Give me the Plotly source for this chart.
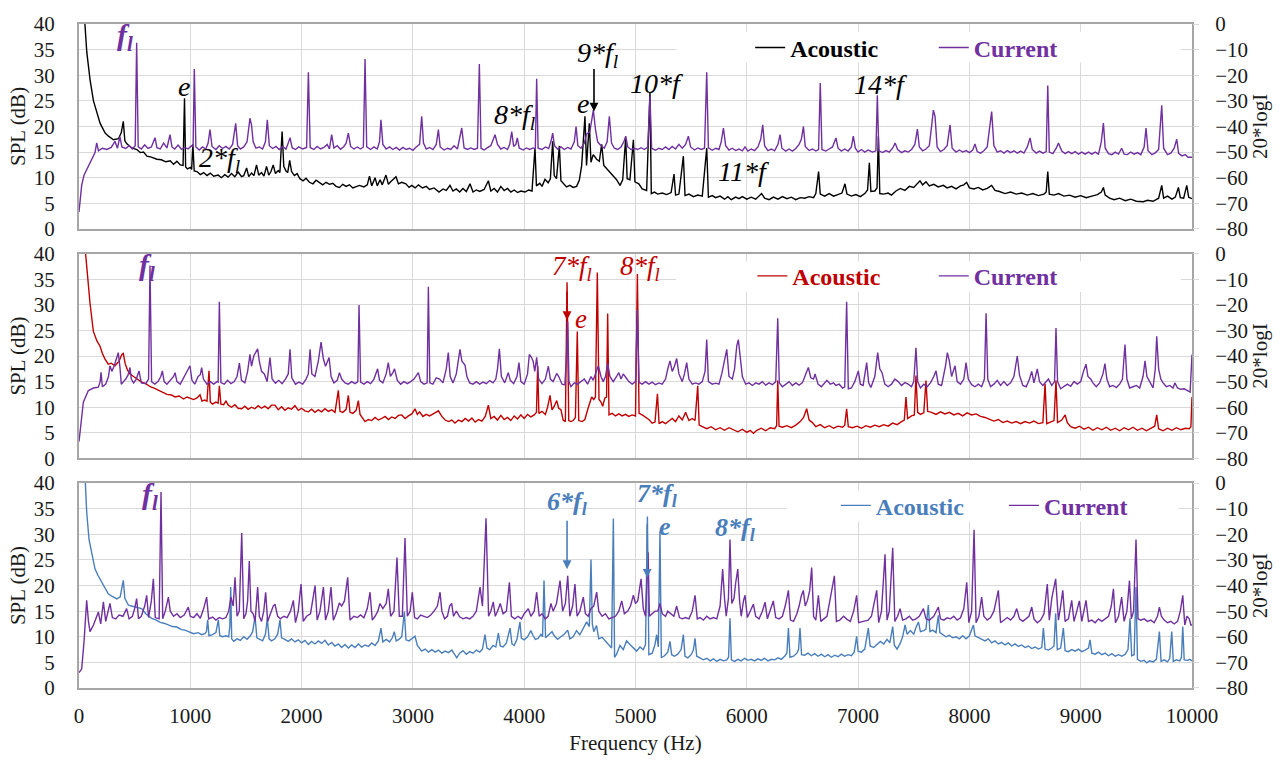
import plotly.graph_objects as go

# ---------------------------------------------------------------------------
# Spectra: (frequency Hz, level).  Acoustic in SPL (dB), current in 20*logI.
# ---------------------------------------------------------------------------
acoustic_top = [(0,62),(25,50),(50,41),(70,34.5),(100,29),(130,25),(160,22.6),(190,20.6),(235,18.7),(265,18.1),(310,17.4),(355,17.6),(380,18.8),(398,21),(412,17.2),(430,16.6),(475,15.8),(520,15.5),(550,14.9),(580,15),(610,14.2),(650,14),(700,13.6),(740,13.5),(780,13.1),(820,13.3),(850,12.6),(880,13.2),(910,12.5),(935,12.4),(948,25.5),(958,12.1),(975,11.7),(1000,12),(1012,11.6),(1023,16.5),(1035,11.3),(1060,11.2),(1090,10.6),(1120,11),(1150,10.4),(1180,10.9),(1210,10.3),(1250,10.5),(1280,10),(1310,10.6),(1340,10.1),(1370,10.8),(1400,10.2),(1430,11.1),(1460,10.2),(1480,10.4),(1506,11.9),(1525,10.2),(1550,10.9),(1572,10.4),(1595,12.5),(1615,10.5),(1640,11),(1662,10.3),(1685,12.2),(1705,10.5),(1725,11.2),(1745,12.5),(1765,10.8),(1790,11.4),(1805,11),(1825,19),(1840,12.2),(1860,11.3),(1875,11),(1893,13.4),(1910,11.2),(1935,10.4),(1960,10.8),(1985,9.8),(2013,9.4),(2040,9.9),(2070,9.1),(2102,8.8),(2130,9.5),(2160,9),(2190,8.6),(2220,9.1),(2250,8.7),(2280,8.9),(2310,8.3),(2340,8.1),(2370,8.7),(2400,8.3),(2430,8.6),(2460,8),(2490,8.2),(2520,8.5),(2560,8.2),(2590,8.6),(2610,10.3),(2630,8.4),(2660,10),(2680,8.4),(2705,9.6),(2725,8.6),(2758,10.5),(2780,8.7),(2800,9.2),(2825,9.8),(2848,10.2),(2870,8.8),(2900,9.1),(2937,8.8),(2965,8.1),(2990,8.5),(3020,8),(3050,8.6),(3086,8),(3120,8.3),(3150,7.7),(3190,8),(3235,7.2),(3270,7.8),(3300,7.5),(3333,8.5),(3360,7.4),(3390,7.8),(3420,7.2),(3450,7.9),(3480,7.3),(3513,8.8),(3540,7.2),(3570,7.6),(3600,7.3),(3640,7.7),(3678,9.4),(3700,7.4),(3730,7.9),(3760,7.2),(3790,8.3),(3820,7.5),(3850,7.9),(3880,7.2),(3910,7.6),(3940,7.1),(3970,7.4),(4007,7.2),(4040,7.6),(4070,7.4),(4097,15.8),(4110,8.4),(4140,8.9),(4160,8.3),(4187,9.7),(4215,9),(4235,9.8),(4256,17.1),(4270,10.4),(4290,9.8),(4316,16.2),(4330,9.4),(4350,8.9),(4380,8.2),(4410,8.5),(4440,8.1),(4471,8.3),(4495,9.5),(4516,12.3),(4546,22),(4560,12.4),(4585,20.6),(4600,13),(4620,14.5),(4651,13.6),(4675,13.2),(4696,16.5),(4715,12.4),(4740,11.8),(4770,11),(4800,10.3),(4830,9.6),(4861,8.5),(4885,9.6),(4912,17.8),(4925,9.8),(4950,9.6),(4981,17.4),(4995,9.2),(5030,8.8),(5060,7.8),(5100,7.5),(5130,26.7),(5142,6.9),(5170,7.2),(5200,6.8),(5240,7),(5280,6.7),(5320,7.1),(5346,10.7),(5360,6.6),(5390,6.8),(5430,14.2),(5445,6.5),(5480,6.8),(5520,6.3),(5560,6.6),(5600,6.4),(5640,15.8),(5655,6.2),(5690,6.5),(5720,6.1),(5760,6.4),(5800,5.8),(5830,6.3),(5860,5.7),(5900,6.2),(5930,5.9),(5960,6.3),(6000,5.8),(6040,6.2),(6080,5.8),(6133,6.9),(6160,6),(6200,5.7),(6240,6.2),(6280,5.8),(6320,6.3),(6360,5.9),(6400,6.2),(6440,5.7),(6480,6.1),(6520,6),(6560,6.3),(6600,6.1),(6620,6.9),(6645,11.2),(6660,6.8),(6700,6.4),(6740,6.9),(6780,6.4),(6820,6.7),(6855,7),(6882,8.8),(6900,6.8),(6940,6.4),(6980,6.7),(7020,6.3),(7060,6.9),(7085,7.6),(7101,12.9),(7115,7.3),(7150,7.4),(7170,8),(7182,18.1),(7195,6.9),(7230,6.8),(7270,7),(7300,6.6),(7340,7.4),(7380,7.9),(7420,7.5),(7460,8.3),(7500,8.1),(7530,8.8),(7556,9.4),(7580,8.6),(7610,9.2),(7640,8.4),(7680,8.7),(7720,8.2),(7766,8.5),(7800,8),(7840,8.3),(7880,7.8),(7920,8.4),(7950,8.6),(7975,9.1),(8000,8),(8040,7.8),(8080,8.1),(8120,7.6),(8160,7.9),(8200,8.5),(8230,7.5),(8270,7.3),(8320,6.9),(8370,7.2),(8420,6.8),(8470,7),(8520,6.6),(8570,6.9),(8620,6.5),(8670,6.8),(8690,7.2),(8704,11.2),(8718,6.8),(8760,6.6),(8800,6.9),(8850,6.4),(8900,6.6),(8950,6.2),(9000,6.5),(9050,6.1),(9100,6.4),(9150,6.7),(9185,7.2),(9204,8.1),(9220,6.6),(9260,6),(9300,5.7),(9350,6),(9400,5.5),(9450,5.8),(9500,5.4),(9563,5.3),(9600,5.6),(9650,5.4),(9700,6),(9728,8.5),(9745,6),(9780,6.4),(9820,5.8),(9850,6.2),(9878,8.1),(9895,6.1),(9925,6),(9953,8.5),(9970,6.2),(10000,5.9)]

current_top = [(0,-73.4),(24,-63),(45,-59),(69,-57),(100,-54),(144,-50.2),(159,-46.4),(175,-49.5),(210,-48.5),(250,-49),(290,-48.2),(323,-45.8),(345,-48.5),(368,-44),(385,-48),(420,-48.6),(450,-47.5),(480,-48.8),(505,-47.5),(518,-7.3),(532,-48),(560,-48.8),(590,-47.2),(620,-48.6),(650,-48),(683,-44.4),(700,-48.3),(730,-48.8),(760,-46.5),(790,-48.4),(818,-43.2),(835,-48),(860,-48.8),(890,-47.3),(920,-48.9),(950,-48.2),(980,-48.8),(1010,-47.5),(1025,-48),(1036,-17.6),(1050,-48),(1080,-49.2),(1110,-48),(1140,-48.8),(1160,-46.5),(1177,-41.2),(1195,-47.8),(1230,-49),(1260,-47.5),(1290,-48.6),(1320,-47.8),(1350,-48.8),(1380,-47),(1408,-38.8),(1425,-47.5),(1450,-48.8),(1480,-48),(1510,-46),(1536,-36.8),(1550,-39.5),(1565,-46),(1590,-48.5),(1620,-48),(1650,-48.8),(1675,-46),(1692,-37.4),(1710,-47.5),(1740,-48.6),(1770,-47.8),(1800,-49),(1830,-47.8),(1860,-48.8),(1880,-46.5),(1896,-44.4),(1915,-48.3),(1945,-49),(1975,-48),(2010,-48.8),(2045,-48.2),(2061,-18.8),(2077,-48.2),(2110,-49),(2140,-47.8),(2170,-48.8),(2200,-48.2),(2230,-47),(2250,-48.8),(2270,-43.2),(2290,-48.4),(2320,-47.5),(2350,-48.9),(2380,-47.8),(2400,-46.5),(2420,-42.6),(2440,-47.8),(2470,-48.8),(2500,-48),(2530,-48.8),(2555,-48),(2570,-13.7),(2585,-48),(2620,-49),(2650,-48),(2680,-48.8),(2700,-46),(2713,-37.4),(2730,-47),(2760,-48.8),(2790,-48),(2820,-49),(2850,-48.2),(2880,-49.2),(2910,-48.2),(2940,-49),(2970,-48.5),(3000,-49.3),(3030,-48),(3060,-47),(3079,-36),(3095,-46.5),(3120,-48.8),(3150,-48.2),(3180,-49),(3210,-47),(3229,-41.2),(3245,-48),(3280,-49.2),(3310,-48.5),(3340,-49),(3370,-47.5),(3400,-48.8),(3439,-40.6),(3460,-48.4),(3490,-49),(3520,-48.4),(3550,-49),(3580,-48.5),(3597,-15.6),(3612,-48.5),(3640,-49.2),(3670,-48.3),(3700,-47.5),(3738,-43.2),(3760,-47),(3790,-48.8),(3820,-48.2),(3850,-49),(3870,-47),(3888,-42),(3905,-47.8),(3925,-47),(3938,-44.5),(3955,-48.4),(3990,-49.2),(4020,-48.4),(4050,-49),(4080,-48.4),(4100,-48.8),(4112,-21.4),(4125,-48.5),(4160,-49),(4190,-48),(4220,-48.6),(4240,-46),(4256,-42.6),(4272,-47.5),(4300,-48.8),(4330,-48),(4360,-49),(4390,-48.2),(4420,-48.8),(4450,-46),(4466,-40),(4482,-47.5),(4510,-48.5),(4540,-46.5),(4560,-43),(4590,-42),(4621,-33.6),(4640,-41),(4660,-46),(4690,-47.5),(4720,-48.5),(4745,-46),(4765,-36),(4785,-46.5),(4810,-48.5),(4840,-49),(4870,-48),(4895,-46),(4912,-43.8),(4930,-48),(4960,-49),(4990,-48.5),(5020,-49),(5050,-48.3),(5080,-49),(5110,-48),(5130,-28),(5145,-48.5),(5180,-49.3),(5210,-48.5),(5240,-49),(5270,-48),(5300,-49),(5330,-47.8),(5360,-48.8),(5390,-47),(5420,-48.5),(5450,-47),(5475,-43.8),(5495,-48),(5530,-49.2),(5560,-48.4),(5590,-49),(5620,-48.5),(5640,-18.8),(5655,-48.4),(5690,-49.3),(5720,-48.5),(5750,-49),(5770,-46),(5790,-40.6),(5810,-47.5),(5840,-49.2),(5870,-48.5),(5900,-49.4),(5930,-48.8),(5960,-49.5),(5984,-48),(6010,-49.6),(6040,-48.8),(6070,-49.4),(6100,-48),(6125,-45),(6143,-39.4),(6160,-47.5),(6190,-49.4),(6220,-48.8),(6250,-49.5),(6280,-47),(6299,-43.2),(6315,-48.5),(6350,-49.6),(6380,-48.8),(6410,-49.6),(6440,-48.6),(6470,-47),(6490,-45),(6509,-40),(6525,-47.8),(6560,-49.4),(6590,-48.8),(6620,-49.6),(6645,-49),(6660,-23),(6675,-49),(6710,-49.6),(6740,-48.8),(6770,-48),(6801,-44.5),(6820,-48.5),(6850,-49.6),(6880,-48.8),(6910,-49.6),(6940,-48),(6957,-43.8),(6975,-48.5),(7000,-50),(7030,-49),(7060,-50),(7090,-49.2),(7130,-50),(7160,-49.5),(7173,-27.8),(7186,-49.5),(7220,-50.2),(7250,-49.4),(7280,-50),(7310,-48.5),(7333,-46.5),(7355,-49),(7390,-50.2),(7420,-49.5),(7450,-50),(7480,-49),(7510,-47),(7533,-41),(7550,-48),(7580,-49.5),(7610,-48.8),(7640,-47.5),(7660,-40),(7676,-33.6),(7691,-36),(7710,-48),(7740,-49.8),(7770,-49),(7800,-47.5),(7826,-39.4),(7845,-48.5),(7880,-50),(7910,-49.2),(7940,-50),(7970,-49.4),(8000,-50.2),(8030,-49.2),(8050,-46.8),(8070,-49.8),(8100,-50.4),(8130,-49.5),(8160,-48),(8200,-34.2),(8220,-47.5),(8250,-50),(8280,-49.5),(8310,-50.4),(8340,-49.4),(8370,-50.2),(8400,-49.5),(8430,-50.4),(8460,-49.6),(8490,-50.4),(8520,-48),(8545,-44.5),(8565,-49),(8600,-50.4),(8630,-49.6),(8660,-50.4),(8690,-49.8),(8704,-24),(8718,-50),(8750,-50.6),(8780,-48.5),(8800,-46.5),(8830,-49.6),(8860,-50.6),(8890,-49.8),(8920,-50.6),(8950,-49.8),(8980,-50.8),(9010,-50),(9040,-50.8),(9070,-50),(9100,-50.8),(9130,-50),(9160,-50.8),(9185,-46),(9204,-38.7),(9220,-48.5),(9250,-50.6),(9280,-51),(9310,-50),(9340,-50.8),(9368,-48.5),(9390,-50.8),(9420,-51),(9450,-50),(9480,-50.8),(9510,-50.2),(9540,-51),(9570,-48),(9587,-40.6),(9605,-49.5),(9640,-51),(9670,-50.3),(9700,-49),(9728,-31.7),(9745,-48.5),(9780,-51),(9810,-50.4),(9840,-48.5),(9863,-45),(9880,-50.5),(9910,-51.5),(9940,-51),(9965,-52),(10000,-52)]

acoustic_mid = [(0,62),(25,50),(55,41),(78,35.4),(99,30.3),(129,24.8),(160,23),(189,21.9),(210,20.5),(234,19.4),(263,18.4),(290,18.6),(323,18.1),(360,19),(385,20.3),(398,20.5),(415,18.5),(435,17.3),(458,16.5),(490,16),(530,15.4),(563,14.9),(600,14.6),(640,14),(680,13.7),(713,13.3),(750,13),(790,12.5),(830,12.4),(863,12),(900,12.2),(940,11.6),(970,12),(997,11.7),(1030,11.5),(1060,11.8),(1087,12.4),(1105,11.2),(1130,11.4),(1150,11.2),(1168,17.1),(1180,11),(1200,10.6),(1230,11),(1250,10.8),(1261,14.2),(1275,10.6),(1300,10.5),(1320,11.2),(1342,10.4),(1370,10),(1400,10.5),(1430,9.8),(1462,9.7),(1490,10.2),(1520,9.6),(1550,10),(1580,9.7),(1610,10.3),(1640,9.8),(1670,10.2),(1700,9.7),(1730,10.4),(1761,10.4),(1790,9.5),(1820,10.1),(1850,9.4),(1880,9.9),(1910,9.6),(1940,10.3),(1970,9.4),(2000,9.8),(2030,9.3),(2061,9.1),(2090,9.6),(2120,9),(2150,9.5),(2180,9.1),(2210,9.7),(2240,9.2),(2270,9.5),(2300,9),(2330,13.3),(2345,9.2),(2370,9),(2400,9.6),(2420,12.3),(2435,9),(2460,8.8),(2490,9.4),(2510,11.3),(2525,8.6),(2550,7.8),(2570,7.2),(2600,7.6),(2630,7.4),(2660,8),(2690,7.5),(2720,7.8),(2750,8.2),(2780,7.6),(2810,8.1),(2840,7.8),(2870,8.4),(2900,8.5),(2930,7.8),(2960,8.3),(2990,8.7),(3019,9.7),(3040,8.6),(3060,9.1),(3090,8.2),(3120,8.6),(3150,8.3),(3190,8.8),(3229,9.3),(3260,8.2),(3290,7.5),(3320,7.2),(3350,7.5),(3378,6.9),(3410,7.5),(3440,7.2),(3470,7.8),(3500,7.3),(3530,7.9),(3560,7.1),(3590,7.6),(3620,7.3),(3650,8.2),(3678,10.4),(3700,7.8),(3730,8.2),(3760,7.5),(3790,8.4),(3820,7.6),(3850,8),(3880,7.4),(3910,8.3),(3940,7.7),(3970,8.5),(4000,7.8),(4030,8.6),(4060,8.1),(4090,8.5),(4110,9),(4121,18.1),(4132,8.8),(4160,9.2),(4190,8.6),(4210,10),(4232,12.3),(4250,9.5),(4270,10.2),(4292,11.3),(4310,9.8),(4330,9.5),(4350,7.5),(4370,7.2),(4385,34.4),(4400,7.4),(4420,7.2),(4440,7.4),(4460,8),(4477,24.8),(4490,7.4),(4520,7.2),(4545,7.6),(4570,9.5),(4590,11),(4606,12),(4625,11.5),(4640,12),(4657,36.3),(4672,11.5),(4690,11),(4705,10.2),(4725,11.8),(4740,12),(4750,28.3),(4762,8.5),(4790,8.8),(4820,8.3),(4850,8.7),(4880,8.3),(4910,8.6),(4940,8.2),(4970,8.5),(5000,8.3),(5017,36),(5032,8.8),(5060,8.5),(5090,8.1),(5120,7.6),(5150,6.9),(5175,7.1),(5197,12.6),(5212,6.8),(5240,7.2),(5270,6.8),(5300,7.3),(5330,7.8),(5360,7.2),(5390,8.3),(5420,7.5),(5450,9),(5480,7.4),(5510,7.8),(5535,7.4),(5559,14.2),(5572,6.5),(5600,6.2),(5640,5.8),(5680,6.2),(5720,5.6),(5760,6),(5800,5.5),(5840,6),(5880,5.6),(5920,5.2),(5960,5.7),(6000,5.1),(6030,5.5),(6059,4.9),(6090,5.5),(6130,5.9),(6170,5.4),(6210,6),(6250,5.8),(6268,6.4),(6278,15.2),(6290,6.3),(6320,6.1),(6360,6.4),(6400,6),(6440,6.5),(6480,7.2),(6510,8),(6538,9.7),(6560,7.5),(6590,7),(6620,6.2),(6660,6.6),(6700,6),(6740,6.4),(6780,5.9),(6820,6.3),(6860,6.1),(6880,6.5),(6897,9.7),(6912,6.2),(6950,6),(6990,6.3),(7030,5.9),(7070,6.4),(7110,6.1),(7150,6.5),(7190,6.2),(7230,6.6),(7270,6.3),(7310,6.9),(7350,6.6),(7390,7.2),(7415,7.5),(7430,12),(7445,7.8),(7480,8.3),(7505,8.5),(7520,16.2),(7535,9),(7560,8.6),(7590,8.9),(7610,15.2),(7625,9.2),(7660,9),(7700,8.6),(7740,9.1),(7780,8.7),(7820,9),(7860,8.5),(7900,8.8),(7940,8.3),(7980,8.9),(8020,8.5),(8060,8.7),(8100,8.2),(8140,8),(8180,7.6),(8220,7.3),(8260,7.6),(8300,7),(8340,7.3),(8380,6.9),(8420,7.2),(8460,6.8),(8500,7.2),(8540,6.9),(8580,7.3),(8620,6.8),(8660,7),(8680,14.6),(8695,6.8),(8730,7.2),(8760,7.4),(8778,15.2),(8792,7),(8830,7.5),(8860,8.5),(8880,7),(8910,6.2),(8950,5.9),(8990,6.3),(9030,5.7),(9070,6.1),(9110,5.5),(9150,6),(9190,5.6),(9230,6.1),(9270,5.5),(9310,5.9),(9350,5.4),(9390,6),(9430,5.6),(9470,6.1),(9510,5.5),(9550,5.9),(9590,5.4),(9630,5.9),(9665,6.3),(9683,8.5),(9700,5.8),(9740,5.4),(9780,5.9),(9820,5.5),(9860,6),(9900,5.6),(9940,5.9),(9975,5.8),(9990,6.2),(10000,12)]

current_mid = [(0,-73.4),(39,-58),(84,-53.5),(130,-52.5),(174,-52.2),(190,-50),(198,-46.4),(210,-52),(240,-51),(265,-48),(278,-43.8),(295,-46),(315,-44),(330,-41.5),(353,-38.7),(368,-44.5),(380,-51),(400,-50),(420,-49),(440,-47.5),(458,-44.5),(470,-49),(490,-50.5),(515,-49),(539,-45.8),(560,-50.5),(600,-50.8),(625,-49),(638,-4.7),(652,-50),(680,-51),(710,-50),(735,-48),(749,-45.8),(765,-50),(790,-51),(820,-49.5),(850,-48),(863,-46.5),(880,-50),(910,-51),(940,-48.5),(970,-46),(997,-43.8),(1015,-49.5),(1040,-51),(1070,-48),(1090,-47.3),(1102,-44.5),(1118,-49),(1150,-51),(1180,-50),(1210,-51),(1240,-50),(1250,-50.2),(1261,-18.8),(1275,-50.4),(1305,-51),(1335,-49.5),(1365,-50.8),(1395,-50),(1420,-48),(1441,-42.8),(1460,-49.5),(1490,-50.5),(1515,-46),(1536,-39.4),(1550,-44),(1570,-40),(1605,-37.2),(1620,-42),(1640,-46),(1665,-47),(1690,-50),(1716,-40.6),(1735,-49),(1765,-50.6),(1795,-49.5),(1825,-50.8),(1855,-49),(1880,-47),(1896,-37.4),(1912,-48.5),(1945,-51),(1975,-50.2),(2010,-51),(2040,-49),(2060,-47),(2076,-37.4),(2092,-47),(2120,-48),(2150,-42),(2175,-34.6),(2195,-41),(2215,-44),(2247,-40.6),(2265,-48),(2290,-50.5),(2320,-49.5),(2340,-46.5),(2360,-49),(2390,-50.5),(2420,-51),(2450,-50),(2480,-50.8),(2505,-50),(2516,-20.1),(2530,-50.2),(2560,-51),(2590,-50),(2620,-50.8),(2650,-49),(2683,-45),(2700,-49.5),(2730,-50.5),(2760,-47),(2779,-42.6),(2798,-48),(2820,-46.5),(2835,-45),(2860,-49.5),(2890,-51),(2920,-50),(2950,-50.8),(2980,-50),(3010,-49),(3049,-46.5),(3070,-50),(3100,-51),(3128,-50.5),(3139,-13),(3152,-50.5),(3180,-51),(3210,-48.5),(3240,-49),(3270,-50.5),(3300,-45),(3318,-38.7),(3335,-48),(3360,-50.5),(3390,-47),(3423,-37.4),(3440,-42),(3468,-43.5),(3485,-48),(3510,-50.5),(3540,-51),(3570,-50),(3600,-51),(3630,-50.2),(3660,-50.8),(3690,-49.6),(3720,-50.5),(3745,-49),(3760,-45),(3777,-37.2),(3795,-48),(3825,-50.5),(3857,-46.5),(3875,-49.5),(3905,-50.8),(3935,-48),(3953,-42.6),(3970,-50),(4000,-51),(4030,-47),(4046,-39.4),(4065,-40.5),(4080,-42),(4095,-46),(4112,-40.5),(4130,-49),(4160,-50.8),(4190,-49),(4217,-44),(4235,-49),(4260,-50),(4292,-46.8),(4310,-48),(4340,-51),(4365,-51.3),(4380,-40),(4391,-26.5),(4402,-50),(4420,-52),(4450,-50.5),(4480,-51),(4510,-50),(4540,-49),(4570,-51),(4600,-48),(4620,-49.5),(4640,-47),(4666,-43.8),(4690,-48),(4710,-50),(4730,-48),(4750,-43),(4770,-48),(4800,-50),(4830,-48),(4850,-46.5),(4870,-49),(4890,-47),(4915,-48.5),(4940,-50),(4970,-51),(5000,-50),(5017,-22),(5032,-50.3),(5060,-51),(5090,-50),(5120,-51),(5150,-50.2),(5180,-51.2),(5210,-50.5),(5240,-51),(5270,-49),(5290,-45),(5310,-41.9),(5330,-46),(5350,-44),(5370,-41),(5390,-47),(5420,-50),(5440,-47),(5460,-42.6),(5480,-49),(5510,-51),(5540,-50.5),(5570,-51),(5600,-50),(5625,-46),(5640,-33.6),(5655,-50),(5690,-51),(5720,-50.6),(5750,-51),(5775,-47),(5800,-41),(5820,-37.4),(5840,-48),(5870,-49),(5890,-45),(5910,-36),(5924,-33.6),(5940,-40),(5960,-48),(5990,-51),(6020,-50.5),(6050,-51.5),(6080,-50.5),(6110,-51),(6140,-50),(6170,-51.4),(6200,-50.5),(6230,-51.2),(6260,-50),(6278,-25.3),(6292,-50.5),(6320,-52),(6350,-51),(6380,-50),(6410,-51.5),(6440,-50.5),(6470,-51.4),(6500,-50.4),(6530,-47),(6553,-44.5),(6575,-48.5),(6600,-49),(6613,-47),(6640,-51),(6670,-52),(6700,-50.5),(6720,-49.5),(6750,-51),(6780,-50.5),(6800,-51.5),(6830,-51),(6860,-52.5),(6880,-52),(6897,-18.8),(6912,-52.8),(6940,-52.5),(6970,-50),(7002,-45.8),(7020,-51),(7045,-51.5),(7077,-42.6),(7095,-50.5),(7115,-52.3),(7150,-48),(7176,-38.7),(7195,-45),(7215,-46.5),(7240,-51),(7270,-52),(7300,-51),(7330,-49),(7360,-50),(7390,-51.5),(7420,-50.4),(7450,-51),(7480,-52),(7500,-50),(7520,-36.8),(7535,-50),(7560,-52.5),(7590,-51),(7620,-52),(7650,-50.5),(7680,-48),(7700,-45.8),(7720,-51),(7750,-51.5),(7785,-44),(7802,-38.7),(7820,-42),(7840,-48),(7871,-43.8),(7890,-50),(7920,-51),(7950,-49),(7970,-42.6),(7990,-49),(8020,-51.2),(8050,-52),(8080,-51),(8110,-52),(8135,-49),(8150,-23.3),(8165,-49),(8190,-52),(8220,-51),(8250,-49.5),(8280,-51.5),(8310,-50),(8340,-51.5),(8370,-50.5),(8400,-48),(8430,-40),(8450,-47.5),(8480,-51.5),(8510,-52),(8540,-49),(8560,-46),(8580,-50.5),(8610,-45),(8630,-50),(8660,-51.5),(8690,-50),(8710,-49),(8740,-51.5),(8765,-50),(8778,-29.1),(8792,-50),(8820,-52.8),(8850,-52),(8880,-51),(8910,-51.8),(8940,-50),(8970,-51),(9000,-50),(9025,-46),(9048,-43.2),(9065,-48),(9090,-49),(9110,-50.5),(9140,-52),(9170,-50.5),(9200,-47),(9218,-43),(9235,-49),(9260,-52),(9290,-51.5),(9320,-52.3),(9350,-51),(9375,-49),(9398,-35.5),(9415,-49),(9440,-52.5),(9470,-52),(9500,-51.5),(9530,-52.5),(9560,-48),(9578,-41.9),(9595,-48),(9620,-50),(9650,-52.5),(9670,-45),(9683,-32.3),(9700,-45),(9720,-49),(9740,-50.5),(9770,-52),(9800,-51.5),(9830,-52.5),(9846,-50.5),(9870,-52.5),(9900,-53),(9930,-52.8),(9960,-53.5),(9983,-54.1),(10000,-39.4)]

acoustic_bot = [(0,62),(25,50),(55,41),(69,34.4),(90,29),(114,26.1),(144,23.2),(170,22),(189,21.3),(210,20.5),(234,19.7),(263,18.4),(290,18),(308,17.8),(340,17.4),(370,17.8),(385,19.5),(398,21),(412,17.5),(430,16.6),(443,16.2),(470,16),(500,15.8),(530,15.7),(563,15.5),(600,14.5),(630,14),(653,13.6),(690,13.3),(730,12.8),(770,12.6),(803,12.3),(840,12),(880,11.9),(920,11.4),(952,11.3),(990,11),(1030,10.6),(1070,10.8),(1102,10.4),(1130,10.6),(1145,11),(1156,13.3),(1168,10.2),(1200,10.4),(1230,10.8),(1252,13.3),(1265,10.2),(1290,10),(1320,10.2),(1345,10),(1355,12),(1363,19.7),(1372,9.6),(1390,9.1),(1420,9.6),(1450,9.3),(1480,10),(1510,9.5),(1540,10.2),(1560,11),(1582,13.9),(1598,9.8),(1620,9.5),(1650,9.2),(1675,10.5),(1692,13.6),(1708,9.6),(1730,9.2),(1760,9.6),(1785,10.5),(1806,13.3),(1820,9.8),(1850,9.5),(1880,9.1),(1910,9.6),(1940,9),(1970,9.4),(2000,8.8),(2030,9.3),(2061,8.5),(2090,9.1),(2120,8.6),(2150,9.2),(2180,8.7),(2210,9.3),(2240,8.4),(2270,8.9),(2300,8.2),(2330,8.6),(2360,7.9),(2390,8.5),(2420,7.8),(2450,8.4),(2480,7.9),(2510,8.6),(2540,8),(2570,8.4),(2600,8.1),(2630,8.8),(2660,8.3),(2690,9.2),(2713,11.7),(2730,9),(2760,9.5),(2790,9),(2815,9.8),(2833,11),(2850,9.2),(2875,9.5),(2900,10),(2923,14.9),(2938,9.4),(2965,9.2),(2990,9.6),(3019,10.1),(3040,8.3),(3060,7.6),(3079,7.2),(3110,7.6),(3140,7),(3170,7.5),(3200,7),(3230,7.4),(3260,6.8),(3290,7.2),(3319,6.9),(3350,7.4),(3394,5.9),(3420,6.8),(3450,7.3),(3480,6.6),(3510,7.1),(3540,6.8),(3570,7.4),(3600,7),(3625,7.6),(3648,10.4),(3665,7.8),(3690,7.5),(3720,8.3),(3745,8),(3768,10.7),(3785,8.2),(3810,8),(3840,8.8),(3873,11.7),(3890,8.6),(3910,8.3),(3935,9.5),(3962,12.9),(3975,9.7),(4000,9.4),(4030,10),(4060,11.2),(4080,10.2),(4100,9.5),(4125,9.7),(4150,10.5),(4165,10),(4178,21),(4192,9.8),(4220,10.3),(4250,11),(4270,10.2),(4300,9.5),(4330,10),(4360,10.5),(4391,11.3),(4410,9.6),(4440,10),(4470,11.2),(4500,10.4),(4530,11.6),(4561,12.9),(4585,12),(4600,25.1),(4612,12.5),(4625,11),(4650,12.2),(4670,9.6),(4700,9.9),(4730,9.1),(4760,8.5),(4785,7.8),(4801,33.1),(4812,6),(4830,6.6),(4860,8.3),(4890,7.5),(4920,9.2),(4950,8.5),(4980,7.8),(5010,7.2),(5040,8),(5070,7.5),(5090,8.5),(5107,33.5),(5120,6.5),(5150,6.8),(5175,8.5),(5190,10.4),(5205,8),(5220,30.6),(5232,5.9),(5260,6.3),(5290,7),(5310,9.1),(5325,6.5),(5350,6.2),(5380,6.6),(5410,7.5),(5430,10.4),(5445,6.2),(5470,5.9),(5500,6.5),(5520,7.4),(5535,9.7),(5550,6.2),(5580,5.9),(5610,5.5),(5640,5.8),(5670,5.3),(5700,5.7),(5730,5.2),(5760,5.6),(5790,5.3),(5820,5.5),(5836,6),(5849,13.6),(5862,5.5),(5890,5.2),(5920,5.6),(5950,5.3),(5980,5.8),(6010,5.4),(6040,5.6),(6070,5.3),(6100,5.7),(6130,5.4),(6160,5.8),(6190,5.3),(6220,5.6),(6250,5.5),(6280,5.9),(6310,5.6),(6340,6.2),(6360,6.8),(6374,11.7),(6388,6),(6420,6.2),(6450,6.8),(6465,7.5),(6478,11.7),(6492,6.5),(6520,6.4),(6550,6.8),(6580,6.3),(6610,6.7),(6640,6.2),(6670,6.6),(6700,6.1),(6730,6.5),(6760,6),(6790,6.4),(6820,6.1),(6850,6.6),(6880,6.2),(6910,6.5),(6940,6.3),(6965,7),(6987,10.1),(7000,7.2),(7030,7),(7060,7.6),(7092,11.7),(7108,8.2),(7140,7.9),(7170,8.6),(7200,9.1),(7230,8.6),(7260,9.5),(7285,8.8),(7311,12),(7325,8.4),(7350,7.6),(7380,8.8),(7400,10),(7422,12.3),(7440,10.5),(7470,11.2),(7500,10.5),(7520,11.8),(7542,12.9),(7560,11),(7590,11.2),(7610,11.5),(7631,16.2),(7645,11),(7670,11.3),(7700,10.8),(7721,14.2),(7735,10.8),(7760,10.5),(7790,10),(7820,10.3),(7850,9.8),(7880,10),(7910,9.6),(7940,10.2),(7970,9.6),(8000,10.2),(8036,12.3),(8050,10.2),(8080,9.9),(8110,9.5),(8140,9.2),(8170,9.6),(8200,8.8),(8230,9.2),(8260,8.6),(8290,8.9),(8320,8.4),(8350,8.8),(8380,8.2),(8410,8.6),(8440,8.1),(8470,8.4),(8500,7.9),(8530,8.2),(8560,7.7),(8590,8),(8620,7.6),(8650,7.9),(8665,11.7),(8680,7.6),(8710,7.4),(8740,7.8),(8760,8.2),(8775,14.6),(8790,7.5),(8820,7.8),(8844,11.7),(8860,7.3),(8890,7.1),(8920,7.5),(8950,7.2),(8980,7.6),(9010,7.1),(9040,7.4),(9070,7.8),(9084,9.4),(9100,6.8),(9130,6.6),(9160,7),(9190,6.5),(9220,6.8),(9250,6.3),(9280,6.7),(9310,6.2),(9340,6.5),(9370,6.2),(9400,6.6),(9425,7.5),(9443,13.6),(9458,6.3),(9480,6.5),(9497,19.7),(9510,5.6),(9540,5.2),(9570,5.4),(9593,4.9),(9620,5.3),(9650,5.1),(9680,5.6),(9707,11),(9722,5.2),(9750,5.5),(9780,5.1),(9800,5.8),(9818,11),(9832,5.2),(9860,5.5),(9890,5.3),(9905,6),(9917,12),(9930,5.5),(9960,5.4),(9980,5.6),(10000,5.3)]

current_bot = [(0,-74),(24,-72.6),(45,-62),(69,-45.8),(85,-54),(99,-58),(130,-55.4),(150,-53),(174,-50.3),(195,-55),(219,-46.4),(240,-54),(262,-50),(278,-47),(300,-52.5),(330,-53),(360,-51.5),(395,-52),(428,-49),(450,-53),(480,-52),(500,-49),(518,-45.1),(535,-53),(560,-52),(590,-48),(608,-43.8),(625,-52.5),(650,-46),(668,-37.4),(685,-52.5),(720,-53),(737,-3.5),(752,-53),(775,-50),(803,-44.5),(820,-50),(850,-52),(880,-51),(910,-52.5),(945,-51.5),(982,-48.4),(1000,-52),(1030,-52.5),(1060,-51),(1090,-52.8),(1120,-49),(1147,-44.5),(1165,-53),(1200,-52.3),(1230,-53.5),(1260,-52.5),(1290,-53),(1320,-52.5),(1345,-50),(1365,-44.5),(1385,-48),(1402,-36.8),(1420,-52),(1440,-50),(1462,-19.5),(1480,-53),(1500,-51),(1515,-46),(1530,-30.4),(1545,-50),(1565,-51),(1582,-54),(1605,-40.6),(1620,-52),(1640,-54),(1660,-50),(1677,-42.6),(1695,-54),(1720,-51),(1745,-48),(1761,-47.3),(1785,-52),(1810,-53),(1840,-52),(1870,-52.5),(1900,-50),(1926,-45.8),(1945,-54.5),(1970,-50),(1995,-39.4),(2015,-54),(2045,-52),(2080,-51),(2100,-46),(2121,-40),(2140,-53.5),(2165,-50),(2196,-40.6),(2215,-53.5),(2240,-50),(2264,-40.6),(2285,-53.5),(2310,-51),(2339,-46.8),(2360,-48),(2385,-46),(2414,-36.8),(2435,-53.5),(2470,-52),(2500,-52.5),(2530,-51.5),(2560,-52.6),(2590,-49),(2615,-42.6),(2635,-53.5),(2660,-52),(2685,-50),(2704,-47),(2730,-49),(2760,-47),(2779,-41.3),(2800,-52),(2830,-50),(2857,-29.1),(2878,-52),(2905,-52),(2929,-21.4),(2950,-52),(2975,-50),(2995,-42.6),(3015,-52.5),(3040,-53),(3070,-51.5),(3100,-52),(3130,-52.5),(3160,-51.5),(3190,-50),(3220,-48),(3244,-42.6),(3260,-50),(3285,-53),(3310,-52),(3330,-48),(3348,-47),(3365,-52),(3390,-50),(3420,-52.2),(3450,-53),(3480,-52.5),(3510,-53),(3540,-52),(3570,-50),(3603,-40.6),(3625,-48),(3657,-13.7),(3680,-52),(3700,-50),(3722,-46.4),(3740,-52),(3760,-50),(3785,-47),(3810,-51),(3840,-50),(3867,-38.7),(3885,-52),(3915,-53),(3945,-52),(3975,-53),(4000,-51),(4037,-49),(4060,-52),(4090,-50),(4112,-42.6),(4135,-52),(4160,-51),(4190,-53),(4215,-52),(4240,-47),(4260,-50),(4290,-47),(4322,-38.1),(4345,-50),(4370,-47),(4391,-36.2),(4410,-52),(4435,-48),(4456,-39.4),(4475,-52),(4500,-50),(4531,-44.5),(4550,-51),(4575,-52),(4600,-49),(4625,-48),(4651,-42.6),(4670,-50),(4700,-52),(4730,-51),(4760,-53),(4790,-52.5),(4820,-52),(4850,-50),(4876,-46),(4900,-51),(4930,-50),(4955,-48),(4981,-43.8),(5000,-47),(5020,-46),(5050,-37.4),(5070,-49),(5090,-52),(5100,-40),(5113,-27),(5125,-52),(5150,-51),(5175,-50),(5200,-50),(5220,-47),(5240,-51),(5270,-52),(5290,-50),(5320,-51),(5345,-52),(5370,-48),(5395,-52.5),(5420,-53),(5450,-52.5),(5480,-53),(5510,-50),(5535,-43.8),(5555,-53),(5580,-52.5),(5610,-53.5),(5640,-52),(5670,-53),(5700,-52.5),(5730,-53),(5760,-48),(5783,-33.6),(5800,-45),(5815,-52),(5835,-45),(5849,-22),(5865,-47),(5885,-45),(5900,-39),(5919,-33.6),(5935,-46),(5950,-52),(5970,-46),(5984,-43.8),(6005,-52.5),(6030,-50),(6059,-47.3),(6080,-52),(6110,-53),(6140,-50),(6164,-46.5),(6185,-53),(6210,-50),(6238,-46),(6260,-52.5),(6290,-53),(6320,-52),(6345,-48),(6374,-41.9),(6392,-53.5),(6420,-54),(6450,-51),(6470,-48),(6490,-44),(6508,-41.9),(6525,-48),(6545,-45.8),(6565,-42),(6583,-33),(6600,-52),(6620,-53.5),(6643,-43.8),(6665,-54),(6695,-53),(6720,-52),(6750,-45),(6787,-36.2),(6805,-54),(6835,-53.5),(6870,-52),(6900,-53.2),(6930,-54),(6960,-50),(6987,-43.8),(7005,-54.5),(7030,-54.2),(7060,-53.8),(7090,-53.5),(7120,-52),(7145,-47),(7167,-41.9),(7185,-54.5),(7210,-50),(7242,-27.8),(7260,-53.5),(7280,-50),(7311,-25.3),(7330,-54),(7355,-52),(7377,-49),(7400,-53.5),(7430,-53),(7460,-52),(7490,-53.5),(7520,-53),(7550,-52),(7587,-49),(7610,-53),(7640,-53.5),(7680,-52),(7721,-48.4),(7740,-53),(7770,-53.5),(7800,-52.6),(7830,-53),(7860,-52),(7890,-53.5),(7920,-52.6),(7950,-49),(7976,-38.7),(7995,-54.5),(8020,-50),(8042,-18.2),(8060,-54.5),(8085,-52),(8110,-44.5),(8130,-52),(8160,-53.5),(8190,-52.5),(8220,-50),(8240,-46),(8260,-41.9),(8280,-54.5),(8310,-53.5),(8340,-52.5),(8370,-53.5),(8400,-52),(8425,-49),(8450,-53),(8480,-54),(8510,-53),(8535,-52),(8560,-48.4),(8580,-53),(8610,-54.5),(8640,-53.5),(8670,-51),(8700,-39.4),(8718,-53.5),(8740,-45),(8775,-37.4),(8800,-53.5),(8820,-48),(8839,-41.9),(8860,-54),(8890,-53),(8919,-45.8),(8940,-54),(8965,-50),(8988,-46),(9010,-54),(9030,-50),(9048,-45.8),(9070,-54),(9100,-53.5),(9130,-54.5),(9160,-53),(9190,-54),(9220,-53),(9250,-52),(9275,-48),(9294,-41.3),(9312,-54.5),(9340,-52),(9368,-44.5),(9390,-54),(9415,-50),(9438,-38.1),(9455,-53),(9475,-50),(9497,-22),(9515,-53),(9540,-53.5),(9570,-53),(9600,-54),(9630,-53.5),(9660,-54.5),(9690,-52),(9707,-48.4),(9725,-52),(9750,-53.5),(9780,-54.5),(9810,-54),(9840,-55),(9870,-54),(9895,-50),(9917,-43.8),(9935,-55.4),(9955,-52),(9975,-53),(9990,-55.4),(10000,-55.4)]

x_ticks = [0, 1000, 2000, 3000, 4000, 5000, 6000, 7000, 8000, 9000, 10000]
x_tick_text = ["0", "1000", "2000", "3000", "4000", "5000", "6000", "7000", "8000", "9000", "10000"]
spl_ticks = [0, 5, 10, 15, 20, 25, 30, 35, 40]
logi_ticks = [-80, -70, -60, -50, -40, -30, -20, -10, 0]

BLACK = "#000000"
RED = "#c00000"
BLUE = "#4a7ebb"
PURPLE = "#7030a0"
SERIF = "Liberation Serif"
GRID = "#d9d9d9"
FRAME = "#a6a6a6"
TEXT = "#1a1a1a"


def split(pairs):
    return [p[0] for p in pairs], [p[1] for p in pairs]


panels = [
    dict(acoustic=acoustic_top, current=current_top, color=BLACK),
    dict(acoustic=acoustic_mid, current=current_mid, color=RED),
    dict(acoustic=acoustic_bot, current=current_bot, color=BLUE),
]

# plot area in pixels: left 79, right 1192, panels stacked with 25 px gaps
domains = [[0.6914, 1.0], [0.3457, 0.6543], [0.0, 0.3086]]
legend_pos = [
    (0.603, 0.964, 0.768, 0.964),
    (0.605, 0.620, 0.768, 0.620),
    (0.680, 0.2745, 0.831, 0.2745),
]

fig = go.Figure()
layout = dict(
    width=1281, height=763,
    margin=dict(l=79, r=89, t=14, b=75),
    paper_bgcolor="white", plot_bgcolor="white",
    font=dict(family=SERIF, size=21, color=TEXT),
    showlegend=True,
    shapes=[], annotations=[],
)

tick_font = dict(family=SERIF, size=21, color=TEXT)

for i, p in enumerate(panels):
    n = i + 1
    xa = "x" if n == 1 else f"x{n}"
    yl = f"y{2 * n - 1}" if n > 1 else "y"
    yr = f"y{2 * n}"
    ax_x = "xaxis" if n == 1 else f"xaxis{n}"
    ax_yl = "yaxis" if n == 1 else f"yaxis{2 * n - 1}"
    ax_yr = f"yaxis{2 * n}"
    lg_a = "legend" if n == 1 else f"legend{2 * n - 1}"
    lg_c = f"legend{2 * n}"

    fa, va = split(p["acoustic"])
    fc, vc = split(p["current"])
    fig.add_trace(go.Scatter(x=fa, y=va, mode="lines", name="Acoustic",
                             line=dict(color=p["color"], width=1.4),
                             xaxis=xa, yaxis=yl, legend=lg_a, showlegend=True))
    fig.add_trace(go.Scatter(x=fc, y=vc, mode="lines", name="Current",
                             line=dict(color=PURPLE, width=1.4),
                             xaxis=xa, yaxis=yr, legend=lg_c, showlegend=True))

    layout[ax_x] = dict(
        domain=[0, 1], anchor=yl, range=[0, 10000],
        tickmode="array", tickvals=x_ticks, ticktext=x_tick_text,
        showgrid=True, gridcolor=GRID, gridwidth=1, zeroline=False,
        showline=True, mirror=True, linecolor=FRAME, linewidth=2,
        showticklabels=(n == 3), tickfont=tick_font,
        ticks="", ticklabelstandoff=8,
    )
    if n > 1:
        layout[ax_x]["matches"] = "x"
    if n == 3:
        layout[ax_x]["title"] = dict(text="Frequency (Hz)", standoff=8, font=tick_font)
    layout[ax_yl] = dict(
        domain=domains[i], anchor=xa, range=[0, 40],
        tickmode="array", tickvals=spl_ticks,
        showgrid=True, gridcolor=GRID, gridwidth=1, zeroline=False,
        showline=True, mirror=True, linecolor=FRAME, linewidth=2,
        tickfont=tick_font, ticklabelstandoff=18,
        title=dict(text="SPL (dB)", standoff=2, font=tick_font),
    )
    layout[ax_yr] = dict(
        domain=domains[i], anchor=xa, overlaying=yl, side="right",
        range=[-80, 0], tickmode="array", tickvals=logi_ticks,
        showgrid=False, zeroline=False,
        showline=False, ticks="outside", ticklen=6, tickcolor=GRID,
        tickfont=tick_font, ticklabelstandoff=12,
        title=dict(text="20*logI", standoff=4, font=tick_font),
    )

    lx_a, ly_a, lx_c, ly_c = legend_pos[i]
    for key, lx, ly, col in ((lg_a, lx_a, ly_a, p["color"]), (lg_c, lx_c, ly_c, PURPLE)):
        layout[key] = dict(x=lx, y=ly, xanchor="left", yanchor="middle",
                           bgcolor="rgba(0,0,0,0)", borderwidth=0,
                           font=dict(family=SERIF, size=24, color=col, weight="bold"),
                           itemwidth=30, tracegroupgap=0)

    # white box behind the legend row
    box_x0 = [5365, 5365, 6360][i]
    box_x1 = [9900, 9900, 9880][i]
    layout["shapes"].append(dict(type="rect", xref=xa, yref=yl, x0=box_x0, x1=box_x1,
                                 y0=32.5, y1=38.5, fillcolor="white", line=dict(width=0),
                                 layer="between"))


def label(n, x, y, text, color, size=28):
    xa = "x" if n == 1 else f"x{n}"
    yl = "y" if n == 1 else f"y{2 * n - 1}"
    layout["annotations"].append(dict(
        xref=xa, yref=yl, x=x, y=y, text=text, showarrow=False,
        font=dict(family=SERIF, size=size, color=color)))


def arrow(n, x, y_tip, length, color):
    xa = "x" if n == 1 else f"x{n}"
    yl = "y" if n == 1 else f"y{2 * n - 1}"
    layout["annotations"].append(dict(
        xref=xa, yref=yl, x=x, y=y_tip, text="", showarrow=True,
        ax=0, ay=-length, arrowhead=2, arrowsize=1.1, arrowwidth=1.6,
        arrowcolor=color))


FL = "<i>f</i><sub><i>l</i></sub>"

# top panel
label(1, 413, 37.4, "<b>" + FL + "</b>", PURPLE, 30)
label(1, 943, 27.8, "<i>e</i>", BLACK, 28)
label(1, 1265, 13.6, "<i>2*</i>" + FL, BLACK, 28)
label(1, 3917, 21.9, "<i>8*</i>" + FL, BLACK, 28)
label(1, 4663, 34.0, "<i>9*</i>" + FL, BLACK, 28)
arrow(1, 4627, 22.9, 44, BLACK)
label(1, 4528, 24.4, "<i>e</i>", BLACK, 28)
label(1, 5190, 28.3, "<i>10*f</i>", BLACK, 28)
label(1, 5970, 11.3, "<i>11*f</i>", BLACK, 28)
label(1, 7197, 28.1, "<i>14*f</i>", BLACK, 28)

# middle panel
label(2, 611, 37.4, "<b>" + FL + "</b>", PURPLE, 30)
label(2, 4430, 37.1, "<i>7*</i>" + FL, RED, 27)
label(2, 5040, 37.1, "<i>8*</i>" + FL, RED, 27)
label(2, 4510, 27.3, "<i>e</i>", RED, 27)
arrow(2, 4385, 27.0, 30, RED)

# bottom panel
label(3, 638, 37.4, "<b>" + FL + "</b>", PURPLE, 30)
label(3, 4385, 36.2, "<b><i>6*</i>" + FL + "</b>", BLUE, 26)
arrow(3, 4385, 23.2, 50, BLUE)
label(3, 5202, 37.6, "<b><i>7*</i>" + FL + "</b>", BLUE, 26)
arrow(3, 5105, 21.5, 55, BLUE)
label(3, 5262, 31.6, "<b><i>e</i></b>", BLUE, 26)
label(3, 5894, 31.0, "<b><i>8*</i>" + FL + "</b>", BLUE, 26)

fig.update_layout(**layout)
fig.write_html("out.html")
